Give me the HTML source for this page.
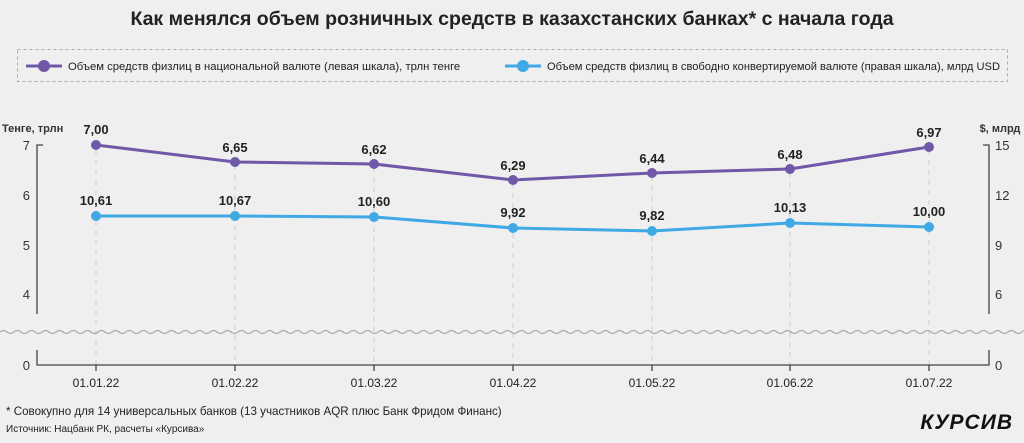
<!DOCTYPE html>
<html><head><meta charset="utf-8"><style>
body{margin:0;background:#efefef;width:1024px;height:438px;overflow:hidden;font-family:"Liberation Sans",sans-serif}
</style></head><body>
<svg width="1024" height="438" xmlns="http://www.w3.org/2000/svg" font-family="Liberation Sans, sans-serif">
<rect width="1024" height="438" fill="#efefef"/>
<text x="512" y="25" text-anchor="middle" font-size="19.5" font-weight="bold" fill="#222">Как менялся объем розничных средств в казахстанских банках* с начала года</text>
<rect x="17.5" y="49.5" width="990" height="32" fill="none" stroke="#aaa" stroke-dasharray="3,3"/>
<line x1="26" y1="66" x2="62" y2="66" stroke="#6f58a8" stroke-width="3"/><circle cx="44" cy="66" r="6" fill="#6f58a8"/>
<text x="68" y="70" font-size="11.3" fill="#222">Объем средств физлиц в национальной валюте (левая шкала), трлн тенге</text>
<line x1="505" y1="66" x2="541" y2="66" stroke="#3fa9e5" stroke-width="3"/><circle cx="523" cy="66" r="6" fill="#3fa9e5"/>
<text x="547" y="70" font-size="11.3" fill="#222" textLength="453" lengthAdjust="spacingAndGlyphs">Объем средств физлиц в свободно конвертируемой валюте (правая шкала), млрд USD</text>
<g stroke="#ccc" stroke-dasharray="5,5">
<line x1="96" y1="150" x2="96" y2="365"/><line x1="235" y1="165" x2="235" y2="365"/><line x1="374" y1="167" x2="374" y2="365"/><line x1="513" y1="183" x2="513" y2="365"/><line x1="652" y1="176" x2="652" y2="365"/><line x1="790" y1="172" x2="790" y2="365"/><line x1="929" y1="150" x2="929" y2="365"/>
</g>
<g stroke="#444" stroke-width="1.3" fill="none">
<path d="M43 145H37V314"/><path d="M983 145H989V314"/>
<path d="M37 350V365H989V350"/>
<path d="M96 365v6M235 365v6M374 365v6M513 365v6M652 365v6M790 365v6M929 365v6"/>
</g>
<path d="M0 332 q3.5 -3 7 0 t7 0 t7 0 t7 0 t7 0 t7 0 t7 0 t7 0 t7 0 t7 0 t7 0 t7 0 t7 0 t7 0 t7 0 t7 0 t7 0 t7 0 t7 0 t7 0 t7 0 t7 0 t7 0 t7 0 t7 0 t7 0 t7 0 t7 0 t7 0 t7 0 t7 0 t7 0 t7 0 t7 0 t7 0 t7 0 t7 0 t7 0 t7 0 t7 0 t7 0 t7 0 t7 0 t7 0 t7 0 t7 0 t7 0 t7 0 t7 0 t7 0 t7 0 t7 0 t7 0 t7 0 t7 0 t7 0 t7 0 t7 0 t7 0 t7 0 t7 0 t7 0 t7 0 t7 0 t7 0 t7 0 t7 0 t7 0 t7 0 t7 0 t7 0 t7 0 t7 0 t7 0 t7 0 t7 0 t7 0 t7 0 t7 0 t7 0 t7 0 t7 0 t7 0 t7 0 t7 0 t7 0 t7 0 t7 0 t7 0 t7 0 t7 0 t7 0 t7 0 t7 0 t7 0 t7 0 t7 0 t7 0 t7 0 t7 0 t7 0 t7 0 t7 0 t7 0 t7 0 t7 0 t7 0 t7 0 t7 0 t7 0 t7 0 t7 0 t7 0 t7 0 t7 0 t7 0 t7 0 t7 0 t7 0 t7 0 t7 0 t7 0 t7 0 t7 0 t7 0 t7 0 t7 0 t7 0 t7 0 t7 0 t7 0 t7 0 t7 0 t7 0 t7 0 t7 0 t7 0 t7 0 t7 0 t7 0 t7 0 t7 0 t7 0 t7 0 t7 0 t7 0 t7 0 t7 0 t7 0 t7 0 t7 0 t7 0 t7 0 t7 0 t7 0 t7 0 t7 0 t7 0 t7 0 t7 0 t7 0 t7 0" fill="none" stroke="#aaa" stroke-width="1.2"/>
<g font-size="13" fill="#333">
<text x="2" y="132" font-size="11" font-weight="bold">Тенге, трлн</text>
<text x="1000" y="132" font-size="11" font-weight="bold" text-anchor="middle">$, млрд</text>
<text x="30" y="150" text-anchor="end">7</text><text x="30" y="200" text-anchor="end">6</text><text x="30" y="250" text-anchor="end">5</text><text x="30" y="299" text-anchor="end">4</text><text x="30" y="370" text-anchor="end">0</text>
<text x="995" y="150">15</text><text x="995" y="200">12</text><text x="995" y="250">9</text><text x="995" y="299">6</text><text x="995" y="370">0</text>
</g>
<g font-size="12" fill="#222" text-anchor="middle">
<text x="96" y="387">01.01.22</text><text x="235" y="387">01.02.22</text><text x="374" y="387">01.03.22</text><text x="513" y="387">01.04.22</text><text x="652" y="387">01.05.22</text><text x="790" y="387">01.06.22</text><text x="929" y="387">01.07.22</text>
</g>
<polyline points="96,145 235,162 374,164 513,180 652,173 790,169 929,147" fill="none" stroke="#6f58a8" stroke-width="3"/>
<g fill="#6f58a8"><circle cx="96" cy="145" r="5"/><circle cx="235" cy="162" r="5"/><circle cx="374" cy="164" r="5"/><circle cx="513" cy="180" r="5"/><circle cx="652" cy="173" r="5"/><circle cx="790" cy="169" r="5"/><circle cx="929" cy="147" r="5"/></g>
<polyline points="96,216 235,216 374,217 513,228 652,231 790,223 929,227" fill="none" stroke="#3fa9e5" stroke-width="3"/>
<g fill="#3fa9e5"><circle cx="96" cy="216" r="5"/><circle cx="235" cy="216" r="5"/><circle cx="374" cy="217" r="5"/><circle cx="513" cy="228" r="5"/><circle cx="652" cy="231" r="5"/><circle cx="790" cy="223" r="5"/><circle cx="929" cy="227" r="5"/></g>
<g font-size="13" font-weight="bold" fill="#222" text-anchor="middle">
<text x="96" y="134">7,00</text><text x="235" y="152">6,65</text><text x="374" y="154">6,62</text><text x="513" y="170">6,29</text><text x="652" y="163">6,44</text><text x="790" y="159">6,48</text><text x="929" y="137">6,97</text>
<text x="96" y="205">10,61</text><text x="235" y="205">10,67</text><text x="374" y="206">10,60</text><text x="513" y="217">9,92</text><text x="652" y="220">9,82</text><text x="790" y="212">10,13</text><text x="929" y="216">10,00</text>
</g>
<text x="6" y="415" font-size="11.6" fill="#222">* Совокупно для 14 универсальных банков (13 участников AQR плюс  Банк Фридом Финанс)</text>
<text x="6" y="432" font-size="10" fill="#222">Источник: Нацбанк РК, расчеты «Курсива»</text>
<text x="1013" y="429" font-size="21" font-weight="bold" font-style="italic" fill="#111" text-anchor="end" letter-spacing="1">КУРСИВ</text>
</svg>
</body></html>
